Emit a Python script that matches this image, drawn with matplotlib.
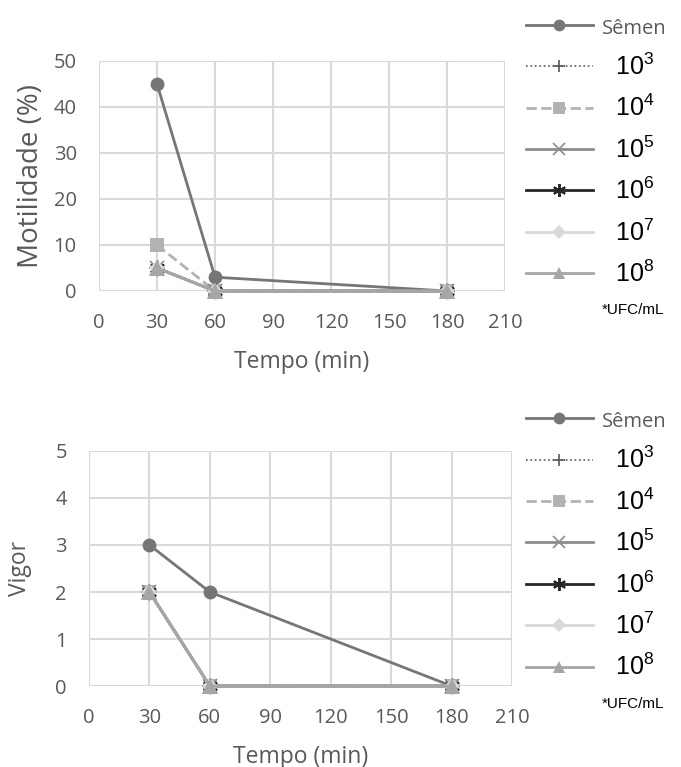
import matplotlib
matplotlib.use("Agg")
import matplotlib.pyplot as plt
from matplotlib.lines import Line2D

plt.rcParams['mathtext.fontset'] = 'custom'
plt.rcParams['mathtext.rm'] = 'Liberation Sans'
plt.rcParams['mathtext.it'] = 'Liberation Sans'

tempo = [30, 60, 180]
series_labels = ['Sêmen', '10$^{3}$', '10$^{4}$', '10$^{5}$', '10$^{6}$', '10$^{7}$', '10$^{8}$']
motilidade = {
    'Sêmen': [45, 3, 0],
    '10$^{3}$': [5, 0, 0],
    '10$^{4}$': [10, 0, 0],
    '10$^{5}$': [5, 0, 0],
    '10$^{6}$': [5, 0, 0],
    '10$^{7}$': [5, 0, 0],
    '10$^{8}$': [5, 0, 0],
}
vigor = {
    'Sêmen': [3, 2, 0],
    '10$^{3}$': [2, 0, 0],
    '10$^{4}$': [2, 0, 0],
    '10$^{5}$': [2, 0, 0],
    '10$^{6}$': [2, 0, 0],
    '10$^{7}$': [2, 0, 0],
    '10$^{8}$': [2, 0, 0],
}
x_ticks = [0, 30, 60, 90, 120, 150, 180, 210]

styles = {
    'Sêmen': dict(color='#767676', ls='-', marker='o', ms=10, mew=0, lw=2),
    '10$^{3}$': dict(color='#595959', ls=':', marker='+', ms=11, mew=1.2, lw=1.2),
    '10$^{4}$': dict(color='#B3B3B3', ls='--', marker='s', ms=10, mew=0, lw=2),
    '10$^{5}$': dict(color='#8C8C8C', ls='-', marker='x', ms=10, mew=1.2, lw=2),
    '10$^{6}$': dict(color='#262626', ls='-', marker=(6, 2, 0), ms=11, mew=1.4, lw=2),
    '10$^{7}$': dict(color='#D9D9D9', ls='-', marker='D', ms=8, mew=0, lw=2),
    '10$^{8}$': dict(color='#A6A6A6', ls='-', marker='^', ms=11, mew=0, lw=2),
}

fig = plt.figure(figsize=(6.81, 7.67), dpi=100)
ax1 = fig.add_axes([0.1454, 0.6206, 0.5962, 0.2999])
ax2 = fig.add_axes([0.1307, 0.1056, 0.6211, 0.3064])

def setup(ax, data, ymax, ylabel, ylab_size, ylab_pad):
    for lab in series_labels:
        st = styles[lab]
        ax.plot(tempo, data[lab], color=st['color'], ls=st['ls'], lw=st['lw'],
                marker=st['marker'], ms=st['ms'], mew=st['mew'],
                mec=st['color'], mfc=st['color'], clip_on=False, label=lab)
    ax.set_xlim(0, 210)
    ax.set_ylim(0, ymax)
    ax.set_xticks(x_ticks)
    step = 10 if ymax == 50 else 1
    ax.set_yticks(list(range(0, ymax + 1, step)))
    ax.grid(True, color='#D9D9D9', lw=1.5)
    ax.set_axisbelow(True)
    for s in ax.spines.values():
        s.set_visible(False)
    ax.tick_params(axis='x', length=0, pad=16)
    ax.tick_params(axis='y', length=0, pad=16)
    for t in ax.get_xticklabels() + ax.get_yticklabels():
        t.set_fontfamily('Open Sans')
        t.set_fontsize(14.5)
        t.set_color('#595959')
    ax.set_xlabel('Tempo (min)', family='Open Sans', size=16.5, color='#595959', labelpad=12)
    ax.set_ylabel(ylabel, family='Open Sans', size=ylab_size, color='#595959', labelpad=ylab_pad)

setup(ax1, motilidade, 50, 'Motilidade (%)', 20, 6)
setup(ax2, vigor, 5, 'Vigor', 16.5, 17)

def add_legend(y_top):
    handles = []
    for lab in series_labels:
        st = styles[lab]
        handles.append(Line2D([0], [0], color=st['color'], ls=st['ls'], lw=st['lw'],
                              marker=st['marker'], ms=st['ms'] * 0.85, mew=st['mew'],
                              mec=st['color'], mfc=st['color']))
    labels = [series_labels[0]] + ['  ' + l for l in series_labels[1:]]
    leg = fig.legend(handles, labels, loc='upper left',
                     bbox_to_anchor=(0.772, y_top), frameon=False,
                     prop=dict(family='Liberation Sans', size=18),
                     handlelength=2.7, handletextpad=0.35, labelspacing=0.6,
                     borderaxespad=0, borderpad=0)
    texts = leg.get_texts()
    texts[0].set_fontfamily('Open Sans')
    texts[0].set_fontsize(14.5)
    texts[0].set_color('#595959')
    for t in texts[1:]:
        t.set_color('black')
    return leg

add_legend(0.983 - 3 / 767)
add_legend(0.474 - 6 / 767)

fig.text(0.93, 1 - 310 / 767, '*UFC/mL', family='Liberation Sans', size=11,
         ha='center', va='center', color='black')
fig.text(0.93, 1 - 704 / 767, '*UFC/mL', family='Liberation Sans', size=11,
         ha='center', va='center', color='black')

fig.savefig('out.png', dpi=100)
